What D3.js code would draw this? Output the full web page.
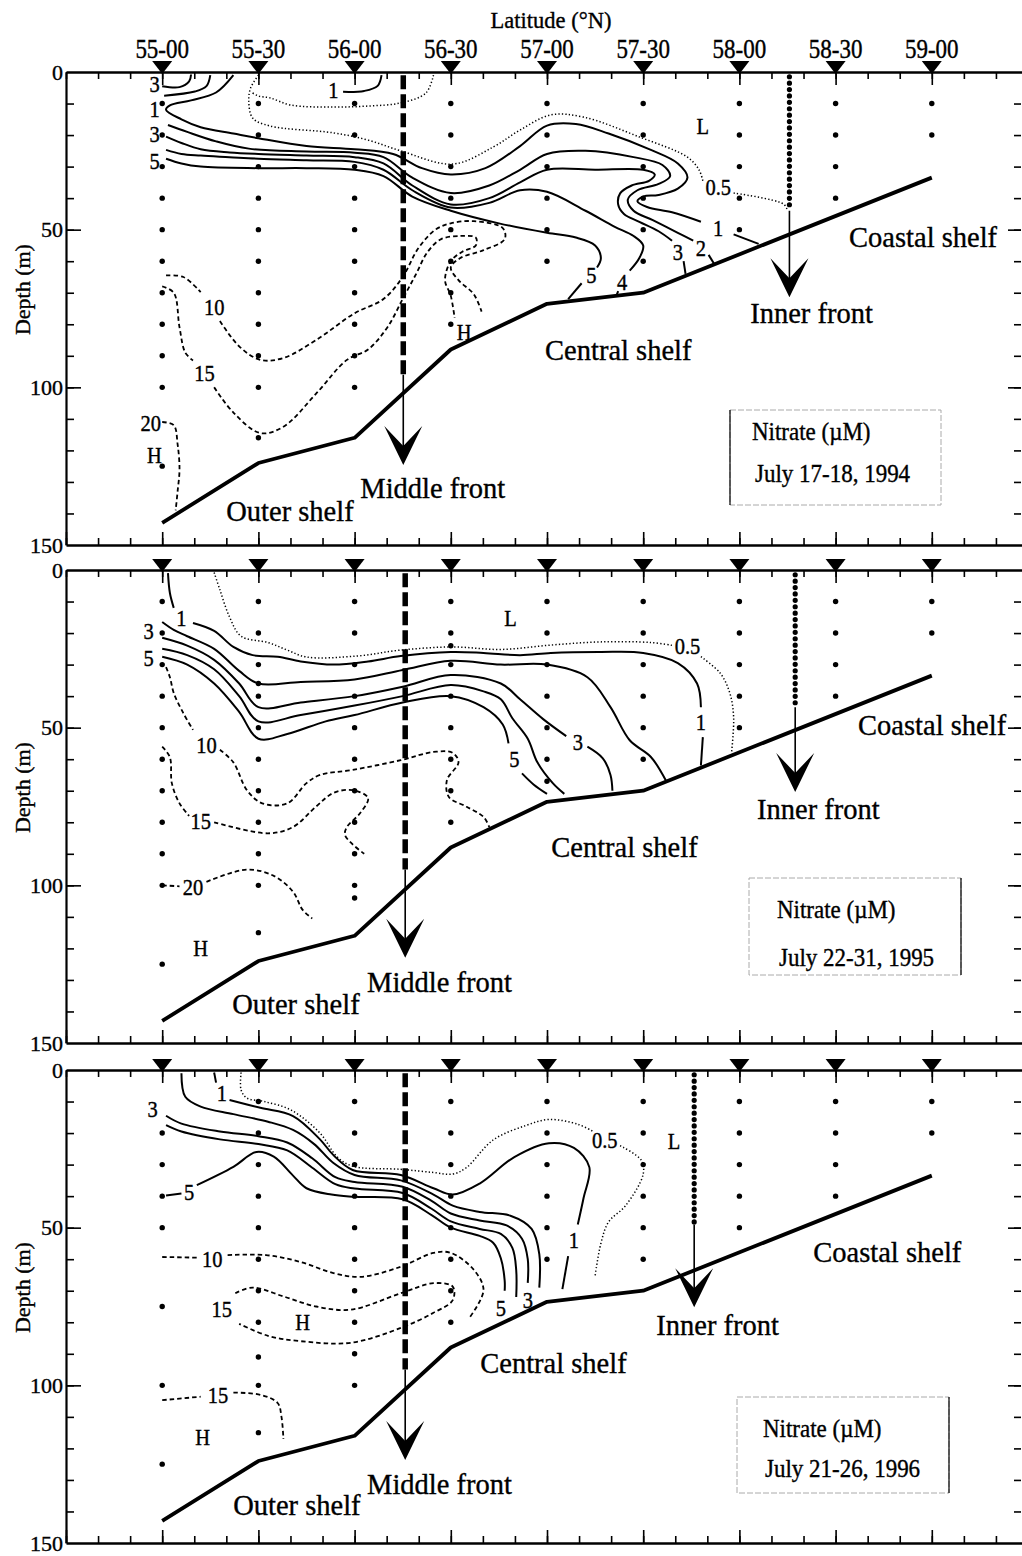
<!DOCTYPE html>
<html>
<head>
<meta charset="utf-8">
<script src="https://cdn.jsdelivr.net/npm/d3@7/dist/d3.min.js"></script>
<style>
  body { margin: 0; background: #fff; }
  svg { display: block; font-family: "Liberation Serif", "Times New Roman", serif; }
  text { fill: #000; stroke: #000; stroke-width: 0.35px; }
</style>
</head>
<body>
<svg id="chart" width="1022" height="1556"></svg>
<script>
// ---- DATA ----
const stations = [55.0, 55.5, 56.0, 56.5, 57.0, 57.5, 58.0, 58.5, 59.0];
const stationLabels = ["55-00", "55-30", "56-00", "56-30", "57-00", "57-30", "58-00", "58-30", "59-00"];
const depthLabels = [0, 50, 100, 150];
const bottomProfile = [[55.0, 143], [55.5, 124], [56.0, 116], [56.5, 88], [57.0, 73.5], [57.5, 70], [59.0, 33.5]];

// sampling depths per station [lat, depths]
const p1Samples = [
  [55.0, [10, 20, 30, 40, 50, 60, 70, 80, 90, 100, 125]],
  [55.5, [10, 20, 30, 40, 50, 60, 70, 80, 90, 100, 116]],
  [56.0, [10, 20, 30, 40, 50, 60, 70, 80, 90, 100]],
  [56.5, [10, 20, 30, 40, 50, 60, 70, 80]],
  [57.0, [10, 20, 30, 40, 50, 60]],
  [57.5, [10, 20, 30, 40, 50, 60]],
  [58.0, [10, 20, 30, 40, 50]],
  [58.5, [10, 20, 30, 40]],
  [59.0, [10, 20]]
];
const p2Samples = [
  [55.0, [10, 20, 30, 40, 50, 60, 70, 80, 90, 100, 125]],
  [55.5, [10, 20, 30, 36, 40, 50, 60, 70, 80, 90, 100, 115]],
  [56.0, [10, 20, 30, 40, 50, 60, 70, 80, 90, 100, 104]],
  [56.5, [10, 20, 24, 30, 40, 50, 60, 70, 80]],
  [57.0, [10, 20, 30, 40, 50, 60, 67]],
  [57.5, [10, 20, 30, 40, 50, 60]],
  [58.0, [10, 20, 30, 40, 50]],
  [58.5, [10, 20, 30, 40]],
  [59.0, [10, 20]]
];
const p3Samples = [
  [55.0, [20, 30, 40, 50, 75, 100, 125]],
  [55.5, [10, 20, 30, 40, 50, 60, 70, 80, 91, 100, 115]],
  [56.0, [10, 20, 30, 40, 50, 60, 70, 80, 90, 100]],
  [56.5, [10, 20, 30, 40, 50, 60, 70, 80]],
  [57.0, [10, 20, 30, 40, 50, 60]],
  [57.5, [10, 20, 30, 40, 50, 60]],
  [58.0, [10, 20, 30, 40, 50]],
  [58.5, [10, 20, 30, 40]],
  [59.0, [10, 20]]
];

// ---- 1994 contours [lat, depth] ----
const p1Solid = [
  [[55.0, 4.5], [55.09, 4.8], [55.14, 3], [55.15, 0.8]],
  [[55.01, 7.5], [55.17, 6.2], [55.23, 4.5], [55.25, 1]],
  [[55.94, 6.3], [56.05, 6], [56.12, 4.4], [56.14, 1]],
  [[55.37, 1], [55.28, 6.5], [55.15, 9], [55.04, 10.6], [55.02, 12], [55.1, 15], [55.2, 17.5], [55.37, 19.5], [55.5, 21], [55.75, 23.5], [56.0, 24.5], [56.2, 26], [56.35, 30.5], [56.5, 32.5], [56.68, 30.5], [56.86, 23.5], [57.0, 17], [57.15, 16.5], [57.32, 19.5], [57.54, 24.7], [57.68, 29], [57.73, 33.5], [57.68, 37], [57.58, 39], [57.5, 39.5], [57.47, 41], [57.52, 42.8], [57.65, 44.5], [57.8, 47.5]],
  [[57.97, 51.5], [58.1, 54.5]],
  [[55.03, 16.8], [55.13, 19], [55.28, 22], [55.45, 24.3], [55.75, 25.2], [56.0, 25.6], [56.15, 27], [56.3, 33.5], [56.5, 38.4], [56.7, 36], [56.86, 31], [57.0, 26], [57.2, 25], [57.45, 27], [57.6, 29.5], [57.64, 33], [57.58, 35.5], [57.47, 37.5], [57.42, 40.5], [57.45, 44], [57.55, 47], [57.68, 51], [57.76, 53.5]],
  [[57.84, 58], [57.87, 61]],
  [[55.02, 20.5], [55.1, 22.5], [55.2, 24.5], [55.35, 25.5], [55.5, 26], [55.75, 26.5], [56.0, 27], [56.15, 29], [56.3, 36], [56.5, 42], [56.7, 40], [56.86, 35], [57.0, 31], [57.25, 31], [57.5, 31], [57.56, 32.5], [57.53, 34.5], [57.44, 36], [57.38, 38.5], [57.37, 42], [57.4, 45], [57.48, 47.5], [57.58, 50.5], [57.65, 53.5]],
  [[57.71, 60], [57.72, 64]],
  [[55.02, 24.7], [55.1, 26], [55.2, 26.5], [55.35, 27], [55.5, 27.5], [55.75, 28], [56.0, 28.5], [56.15, 31], [56.3, 37.5], [56.5, 43], [56.7, 41.5], [56.86, 37.5], [57.0, 38], [57.2, 44], [57.35, 49], [57.45, 52], [57.5, 55], [57.48, 59], [57.43, 63]],
  [[57.37, 69.5], [57.36, 71]],
  [[55.02, 27.5], [55.1, 29], [55.2, 30], [55.5, 30.5], [55.75, 30.5], [56.0, 31], [56.15, 33], [56.3, 39.5], [56.5, 44], [56.75, 48], [57.0, 51], [57.15, 52.5], [57.25, 55], [57.28, 59], [57.26, 62]],
  [[57.18, 67], [57.11, 72]]
];
const p1Dotted = [
  [[55.5, 1], [55.46, 5], [55.45, 9], [55.47, 14.6], [55.56, 17.1], [55.89, 19.3], [56.07, 21.6], [56.24, 25], [56.51, 29.2], [56.72, 23.8], [56.86, 18.4], [57.02, 13.6], [57.19, 14.3], [57.48, 20.6], [57.73, 27], [57.79, 31], [57.81, 34.5]],
  [[57.97, 38.4], [58.23, 41.9], [58.25, 44]],
  [[56.41, 1], [56.37, 6.7], [56.24, 9.8], [56.07, 10.8], [55.89, 11.1], [55.67, 10.5], [55.56, 8.2], [55.5, 7.6], [55.46, 6.3]]
];
const p1Dashed = [
  [[55.02, 64.5], [55.11, 65], [55.2, 69.8]],
  [[55.3, 79], [55.4, 87], [55.51, 91.3], [55.63, 90.7], [55.8, 85], [56.0, 76.5], [56.15, 72], [56.25, 65], [56.33, 56], [56.42, 50], [56.5, 48], [56.62, 47.3], [56.77, 49.5], [56.78, 53], [56.67, 56.5], [56.55, 59], [56.5, 62], [56.54, 66], [56.62, 70.5], [56.66, 76]],
  [[55.0, 68], [55.06, 70], [55.09, 81], [55.12, 89], [55.16, 91.5]],
  [[55.27, 100], [55.37, 108], [55.51, 114.5], [55.63, 112.5], [55.8, 102], [55.96, 91.3], [56.07, 88], [56.17, 81], [56.25, 72], [56.32, 64], [56.38, 57], [56.45, 53], [56.55, 52], [56.63, 52.5], [56.63, 55], [56.56, 57], [56.5, 60], [56.47, 66], [56.5, 71], [56.52, 78]],
  [[55.0, 111], [55.06, 112], [55.08, 118], [55.09, 126], [55.08, 133], [55.07, 139]]
];
const p1Labels = [
  ["3", 54.96, 3.8], ["1", 54.96, 11.8], ["3", 54.96, 19.6], ["5", 54.96, 28.2], ["1", 55.89, 5.8],
  ["0.5", 57.89, 36.3], ["1", 57.89, 49.5], ["2", 57.8, 55.8], ["3", 57.68, 57], ["4", 57.39, 66.5], ["5", 57.23, 64.5],
  ["L", 57.81, 17], ["H", 56.57, 82.5], ["H", 54.96, 121.5], ["10", 55.27, 74.5], ["15", 55.22, 95.5], ["20", 54.94, 111.4]
];
const p1Regions = [
  ["Coastal shelf", 58.57, 55.5], ["Inner front", 58.056, 79.6], ["Central shelf", 56.99, 91.3],
  ["Middle front", 56.03, 135], ["Outer shelf", 55.333, 142.4]
];
const p1Fronts = { middle: [56.253, 96, 124.6], inner: [58.26, 44, 71.4] };
const p1Legend = ["Nitrate (\u00b5M)", "July 17-18, 1994"];

// ---- 1995 contours ----
const p2Solid = [
  [[55.03, 1], [55.04, 7.3], [55.06, 12]],
  [[55.16, 16.8], [55.27, 19.3], [55.37, 24.4], [55.47, 27], [55.6, 27.5], [55.72, 29], [55.89, 30], [56.07, 29], [56.24, 27.3], [56.5, 26], [56.67, 26.3], [56.86, 27], [57.02, 26.3], [57.28, 26], [57.5, 26.3], [57.68, 29.5], [57.78, 36], [57.8, 43.5]],
  [[57.81, 53], [57.8, 62]],
  [[55.0, 16.5], [55.06, 19], [55.13, 21], [55.27, 25], [55.4, 32], [55.5, 36], [55.72, 35.5], [56.0, 34.7], [56.25, 31.7], [56.5, 28.8], [56.76, 30], [57.0, 30], [57.21, 34], [57.33, 43.5], [57.43, 54], [57.54, 59.3], [57.62, 67]],
  [[55.0, 21.5], [55.13, 24], [55.27, 28.5], [55.4, 36], [55.5, 43.5], [55.72, 42], [56.0, 40], [56.25, 37], [56.5, 33.3], [56.76, 36], [56.86, 41], [56.98, 47.3], [57.1, 52.7]],
  [[57.21, 56], [57.29, 59.7], [57.33, 65], [57.34, 70]],
  [[55.0, 25], [55.13, 27], [55.27, 31.5], [55.4, 40], [55.5, 48], [55.72, 46], [56.0, 43], [56.25, 40], [56.5, 36.5], [56.67, 38.5], [56.76, 41], [56.82, 47], [56.9, 53.5], [56.95, 61], [57.03, 67.6], [57.09, 71]],
  [[55.0, 27.5], [55.13, 30], [55.27, 36], [55.4, 45], [55.5, 53.5], [55.65, 52], [55.85, 48], [56.0, 46], [56.25, 42], [56.5, 40], [56.67, 43.5], [56.77, 49], [56.8, 55]],
  [[56.87, 64.5], [56.93, 68], [57.0, 71]]
];
const p2Dotted = [
  [[55.27, 0.8], [55.3, 6.3], [55.35, 14.9], [55.41, 21], [55.55, 23], [55.65, 25.4], [55.75, 27.6], [56.01, 27.3], [56.24, 25.4], [56.51, 24.4], [56.76, 25.2], [57.02, 23.8], [57.28, 22.8], [57.54, 23], [57.66, 24]],
  [[57.8, 27.5], [57.9, 32.7], [57.95, 39], [57.97, 46.6], [57.96, 57.5]]
];
const p2Dashed = [
  [[55.02, 30.8], [55.04, 34], [55.06, 39], [55.11, 45.4], [55.16, 50.7]],
  [[55.3, 57], [55.37, 61], [55.44, 69.8], [55.52, 74], [55.65, 74], [55.75, 67.6], [55.82, 65], [55.99, 63.4], [56.24, 60.3], [56.41, 57.7], [56.51, 58], [56.54, 61], [56.48, 66.6], [56.49, 72], [56.58, 75], [56.67, 78.3], [56.7, 81.5]],
  [[55.0, 56], [55.04, 59.4], [55.05, 67.6], [55.09, 74], [55.14, 78]],
  [[55.27, 80], [55.55, 83.5], [55.68, 81.5], [55.8, 75], [55.89, 70.7], [55.99, 69.8], [56.07, 72.3], [56.03, 77], [55.96, 81.5], [55.95, 84], [55.99, 87], [56.05, 90]],
  [[55.0, 100], [55.09, 100.3]],
  [[55.23, 98.9], [55.44, 95], [55.58, 97], [55.68, 102], [55.73, 107.8], [55.78, 110.5]]
];
const p2Labels = [
  ["1", 55.1, 15.3], ["3", 54.93, 19.2], ["5", 54.93, 27.9], ["10", 55.23, 55.5], ["15", 55.2, 79.5],
  ["20", 55.16, 100.5], ["H", 55.2, 120], ["L", 56.81, 15.3], ["0.5", 57.73, 24.2], ["1", 57.8, 48.3],
  ["3", 57.16, 54.5], ["5", 56.83, 60]
];
const p2Regions = [
  ["Coastal shelf", 58.617, 52.3], ["Inner front", 58.092, 79], ["Central shelf", 57.022, 91],
  ["Middle front", 56.065, 133.8], ["Outer shelf", 55.364, 140.8]
];
const p2Fronts = { middle: [56.263, 95, 123], inner: [58.29, 43.5, 70.4] };
const p2Legend = ["Nitrate (\u00b5M)", "July 22-31, 1995"];

// ---- 1996 contours ----
const p3Solid = [
  [[55.27, 0.8], [55.28, 4]],
  [[55.35, 9.5], [55.51, 12], [55.68, 14.6], [55.82, 22], [55.89, 27], [55.99, 31.7], [56.24, 33.3], [56.41, 37.5], [56.51, 39.5], [56.65, 36], [56.83, 27.6], [57.01, 23.2], [57.14, 24.7], [57.22, 30.8], [57.19, 40.6], [57.16, 49]],
  [[57.11, 59], [57.08, 69.5]],
  [[55.1, 1], [55.12, 8.5], [55.2, 11.6], [55.37, 14], [55.55, 16.4], [55.68, 19], [55.79, 23.5], [55.89, 29.5], [56.0, 33.3], [56.24, 35], [56.41, 39.5], [56.51, 43], [56.65, 45], [56.81, 46.2], [56.92, 50.4], [56.96, 58.4], [56.96, 69]],
  [[55.02, 14.5], [55.1, 17], [55.3, 19.5], [55.5, 21], [55.65, 23], [55.78, 28], [55.9, 34], [56.0, 35.5], [56.25, 37], [56.4, 41.5], [56.5, 45.5], [56.65, 47.7], [56.79, 49.3], [56.87, 53.5], [56.9, 60], [56.9, 67.5]],
  [[55.02, 17.5], [55.1, 19.5], [55.3, 22], [55.5, 23.5], [55.65, 25.5], [55.78, 31], [55.9, 36.2], [56.0, 37.6], [56.25, 39], [56.4, 44], [56.5, 48], [56.65, 50.4], [56.76, 52], [56.82, 56.4], [56.84, 63.5], [56.84, 72]],
  [[55.02, 39.8], [55.1, 39.2]],
  [[55.18, 36.5], [55.37, 30.7], [55.49, 26], [55.58, 27.5], [55.68, 33.5], [55.75, 37.5], [55.88, 39.5], [56.0, 40.2], [56.25, 41], [56.4, 46], [56.5, 50], [56.65, 52.6], [56.72, 54.8], [56.76, 59.7], [56.78, 66.8], [56.78, 70]]
];
const p3Dotted = [
  [[55.41, 0.8], [55.41, 6.3], [55.44, 8.9], [55.53, 10], [55.67, 12.7], [55.82, 20], [55.91, 27.6], [55.99, 30.5], [56.24, 31.5], [56.41, 32.5], [56.51, 33], [56.58, 31], [56.72, 22.2], [56.89, 17.6], [57.01, 15.7], [57.16, 17.2], [57.24, 19.5]],
  [[57.38, 24], [57.49, 28.6], [57.5, 33], [57.41, 42.9], [57.32, 48.2], [57.28, 55], [57.25, 65.3]]
];
const p3Dashed = [
  [[55.0, 59.3], [55.18, 59.5]],
  [[55.34, 58.7], [55.54, 58.7], [55.72, 60.9], [55.89, 64.4], [56.03, 65.6], [56.24, 62.4], [56.41, 58], [56.5, 58], [56.62, 63.4], [56.67, 69.8], [56.6, 78.3]],
  [[55.38, 70.8], [55.47, 69], [55.63, 71.8], [55.8, 75], [55.98, 76], [56.24, 70.8], [56.41, 67.6], [56.51, 68.7], [56.51, 73], [56.41, 77], [56.24, 81.8], [55.98, 86.5], [55.72, 86], [55.55, 84.3], [55.4, 80.5]],
  [[55.0, 104.7], [55.2, 103.6]],
  [[55.37, 102.3], [55.51, 103], [55.6, 105.6], [55.62, 110], [55.63, 117]]
];
const p3Labels = [
  ["3", 54.95, 12.5], ["1", 55.31, 7.3], ["5", 55.14, 38.8], ["0.5", 57.3, 22.2], ["L", 57.66, 22.6],
  ["1", 57.14, 54], ["3", 56.9, 72.8], ["5", 56.76, 75.5], ["10", 55.26, 59.8], ["15", 55.31, 75.8],
  ["H", 55.73, 80], ["15", 55.29, 103], ["H", 55.21, 116.4]
];
const p3Regions = [
  ["Coastal shelf", 58.384, 61], ["Inner front", 57.568, 84], ["Central shelf", 56.653, 96],
  ["Middle front", 56.065, 134.5], ["Outer shelf", 55.369, 141]
];
const p3Fronts = { middle: [56.263, 95, 123.7], inner: [57.765, 49, 75.2] };
const p3Legend = ["Nitrate (\u00b5M)", "July 21-26, 1996"];

// ---- LAYOUT ----
const svg = d3.select("#chart");
const x = d3.scaleLinear().domain([54.5, 59.5]).range([66, 1028]);
const panelHeight = 473;

const panels = [
  { top: 72, samples: p1Samples, solid: p1Solid, dotted: p1Dotted, dashed: p1Dashed, labels: p1Labels, regions: p1Regions, fronts: p1Fronts, legend: p1Legend,
    box: { x: 730, y: 410, w: 211, h: 95, side: "left", t1: [752, 440], t2: [755, 482] } },
  { top: 570, samples: p2Samples, solid: p2Solid, dotted: p2Dotted, dashed: p2Dashed, labels: p2Labels, regions: p2Regions, fronts: p2Fronts, legend: p2Legend,
    box: { x: 749, y: 878, w: 212, h: 97, side: "right", t1: [777, 918], t2: [779, 966] } },
  { top: 1070, samples: p3Samples, solid: p3Solid, dotted: p3Dotted, dashed: p3Dashed, labels: p3Labels, regions: p3Regions, fronts: p3Fronts, legend: p3Legend,
    box: { x: 737, y: 1397, w: 212, h: 96, side: "right", t1: [763, 1437], t2: [765, 1477] } }
];

const minorTicks = d3.range(0, 31).map(i => 54.5 + i / 6);

// scanned figure: numbers are a bit taller than wide
const stretch = (px, py, sy) => `translate(${px},${py}) scale(1,${sy})`;

// title and station labels
svg.append("text")
  .attr("x", 551).attr("y", 28)
  .attr("text-anchor", "middle")
  .attr("font-size", "22.5px")
  .text("Latitude (\u00b0N)");

svg.selectAll("text.station")
  .data(stations)
  .enter().append("text")
  .attr("class", "station")
  .attr("transform", d => stretch(x(d), 58, 1.2))
  .attr("text-anchor", "middle")
  .attr("font-size", "23px")
  .text((d, i) => stationLabels[i]);

panels.forEach(drawPanel);

function styleAxis(g, domainWidth) {
  g.select(".domain").attr("stroke", "#000").attr("stroke-width", domainWidth);
  g.selectAll(".tick line").attr("stroke", "#000").attr("stroke-width", 1.6);
}

function drawPanel(p) {
  const y = d3.scaleLinear().domain([0, 150]).range([p.top, p.top + panelHeight]);
  const g = svg.append("g");

  // ---- axes ----
  g.append("g").attr("transform", `translate(0,${y(0)})`)
    .call(d3.axisBottom(x).tickValues(minorTicks).tickSize(7).tickSizeOuter(0).tickFormat(""))
    .call(a => styleAxis(a, 2.6));
  g.append("g").attr("transform", `translate(0,${y(0)})`)
    .call(d3.axisBottom(x).tickValues(stations).tickSize(13).tickSizeOuter(0).tickFormat(""))
    .call(a => a.select(".domain").remove())
    .call(a => styleAxis(a, 0));

  g.append("g").attr("transform", `translate(0,${y(150)})`)
    .call(d3.axisTop(x).tickValues(minorTicks).tickSize(7).tickSizeOuter(0).tickFormat(""))
    .call(a => styleAxis(a, 2.4));
  g.append("g").attr("transform", `translate(0,${y(150)})`)
    .call(d3.axisTop(x).tickValues(d3.range(54.5, 59.51, 0.5)).tickSize(13).tickSizeOuter(0).tickFormat(""))
    .call(a => a.select(".domain").remove())
    .call(a => styleAxis(a, 0));

  const minorDepth = d3.range(10, 150, 10);
  g.append("g").attr("transform", `translate(66,0)`)
    .call(d3.axisRight(y).tickValues(minorDepth).tickSize(8).tickSizeOuter(0).tickFormat(""))
    .call(a => styleAxis(a, 2.2));
  g.append("g").attr("transform", `translate(66,0)`)
    .call(d3.axisRight(y).tickValues([50, 100]).tickSize(15).tickFormat(""))
    .call(a => a.select(".domain").remove())
    .call(a => styleAxis(a, 0));
  g.append("g").attr("transform", `translate(66,0)`)
    .call(d3.axisLeft(y).tickValues(depthLabels).tickSize(0).tickPadding(3))
    .call(a => a.select(".domain").remove())
    .call(a => a.selectAll("text").attr("font-size", "22px").attr("font-family", "Liberation Serif"));

  g.append("g").attr("transform", `translate(1021,0)`)
    .call(d3.axisLeft(y).tickValues(minorDepth).tickSize(7).tickFormat(""))
    .call(a => a.select(".domain").remove())
    .call(a => styleAxis(a, 0));
  g.append("g").attr("transform", `translate(1021,0)`)
    .call(d3.axisLeft(y).tickValues([50, 100]).tickSize(13).tickFormat(""))
    .call(a => a.select(".domain").remove())
    .call(a => styleAxis(a, 0));

  g.append("text")
    .attr("transform", `translate(30,${y(69)}) rotate(-90)`)
    .attr("text-anchor", "middle")
    .attr("font-size", "22px")
    .text("Depth (m)");

  // station triangles
  g.selectAll("path.tri")
    .data(stations)
    .enter().append("path")
    .attr("class", "tri")
    .attr("d", d => `M${x(d) - 10},${y(0) - 11}L${x(d) + 10},${y(0) - 11}L${x(d)},${y(0) + 2}Z`)
    .attr("fill", "#000");

  // sample dots
  const dots = [];
  p.samples.forEach(s => s[1].forEach(dep => dots.push([s[0], dep])));
  g.selectAll("circle.dot")
    .data(dots)
    .enter().append("circle")
    .attr("cx", d => x(d[0]))
    .attr("cy", d => y(d[1]))
    .attr("r", 2.7)
    .attr("fill", "#000");

  // bottom profile
  const straight = d3.line().x(d => x(d[0])).y(d => y(d[1]));
  g.append("path")
    .attr("d", straight(bottomProfile))
    .attr("fill", "none")
    .attr("stroke", "#000")
    .attr("stroke-width", 3.8)
    .attr("stroke-linejoin", "round");

  // contours
  const smooth = d3.line().x(d => x(d[0])).y(d => y(d[1])).curve(d3.curveCatmullRom.alpha(0.5));
  const drawSet = (set, width, dash) => {
    g.selectAll(null).data(set).enter().append("path")
      .attr("d", smooth)
      .attr("fill", "none")
      .attr("stroke", "#000")
      .attr("stroke-width", width)
      .attr("stroke-dasharray", dash);
  };
  drawSet(p.solid, 2, null);
  drawSet(p.dashed, 1.8, "4.5,3");
  drawSet(p.dotted, 1.5, "1.3,2.2");

  // contour labels
  g.selectAll(null).data(p.labels).enter().append("text")
    .attr("transform", d => stretch(x(d[1]), y(d[2]), 1.12))
    .attr("dy", "0.35em")
    .attr("text-anchor", "middle")
    .attr("font-size", "20.5px")
    .text(d => d[0]);

  // fronts
  const mf = p.fronts.middle;
  g.append("line")
    .attr("x1", x(mf[0])).attr("x2", x(mf[0]))
    .attr("y1", y(1)).attr("y2", y(mf[1]))
    .attr("stroke", "#000").attr("stroke-width", 5.5)
    .attr("stroke-dasharray", "14,5");
  drawArrow(g, x(mf[0]), y(mf[1]), y(mf[2]));

  const inf = p.fronts.inner;
  g.append("line")
    .attr("x1", x(inf[0])).attr("x2", x(inf[0]))
    .attr("y1", y(1.5)).attr("y2", y(inf[1]))
    .attr("stroke", "#000").attr("stroke-width", 5.2)
    .attr("stroke-linecap", "round")
    .attr("stroke-dasharray", "0,6.4");
  drawArrow(g, x(inf[0]), y(inf[1]), y(inf[2]));

  // region labels
  g.selectAll(null).data(p.regions).enter().append("text")
    .attr("x", d => x(d[1]))
    .attr("y", d => y(d[2]))
    .attr("font-size", "28.5px")
    .text(d => d[0]);

  // legend box
  const b = p.box;
  g.append("rect")
    .attr("x", b.x).attr("y", b.y).attr("width", b.w).attr("height", b.h)
    .attr("fill", "none").attr("stroke", "#aaa").attr("stroke-width", 1)
    .attr("stroke-dasharray", "6,2");
  const sx = b.side === "left" ? b.x : b.x + b.w;
  g.append("line")
    .attr("x1", sx).attr("x2", sx).attr("y1", b.y).attr("y2", b.y + b.h)
    .attr("stroke", "#000").attr("stroke-width", 1.2);
  g.append("text").attr("transform", stretch(b.t1[0], b.t1[1], 1.07)).attr("font-size", "23px").text(p.legend[0]);
  g.append("text").attr("transform", stretch(b.t2[0], b.t2[1], 1.07)).attr("font-size", "23px").text(p.legend[1]);
}

function drawArrow(g, px, yStart, yTip) {
  g.append("line")
    .attr("x1", px).attr("x2", px)
    .attr("y1", yStart).attr("y2", yTip - 10)
    .attr("stroke", "#000").attr("stroke-width", 1.6);
  g.append("path")
    .attr("d", `M${px},${yTip}L${px - 19},${yTip - 39}L${px},${yTip - 19}L${px + 19},${yTip - 39}Z`)
    .attr("fill", "#000");
}
</script>
</body>
</html>
